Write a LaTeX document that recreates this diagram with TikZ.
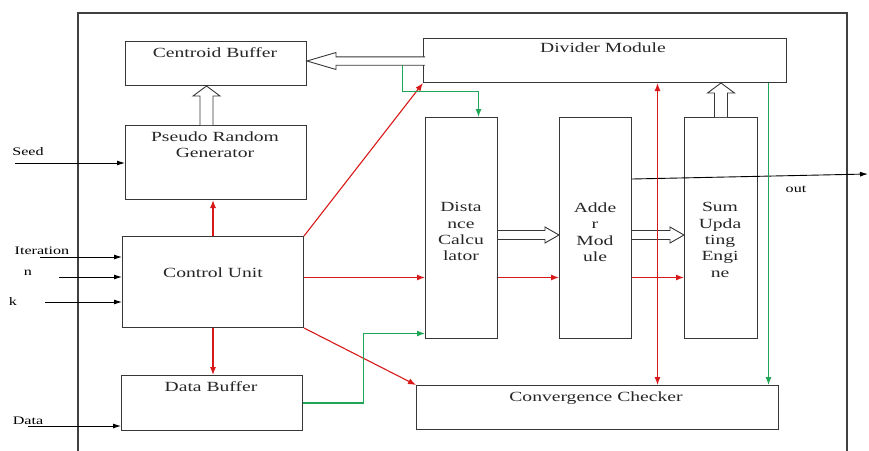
\documentclass[tikz,border=0pt]{standalone}
\usepackage{fontspec}
\setmainfont{Liberation Serif}
\newfontfamily\blockfont[FakeStretch=1.4]{Liberation Serif}
\usetikzlibrary{arrows.meta,calc}

\definecolor{redline}{RGB}{215,25,25}
\definecolor{greenline}{RGB}{30,165,85}
\definecolor{boxline}{RGB}{55,55,55}

% hollow block arrows
\newcommand{\fatup}[2]{%
  \draw[fat] let \p1=(#1), \p2=(#2) in (\x1-6.5pt,\y1) -- (\x1-6.5pt,\y2-10pt) -- (\x1-13.5pt,\y2-10pt)
    -- (\x1,\y2) -- (\x1+13.5pt,\y2-10pt) -- (\x1+6.5pt,\y2-10pt) -- (\x1+6.5pt,\y1);}
\newcommand{\fatright}[2]{%
  \draw[fat] let \p1=(#1), \p2=(#2) in (\x1,\y1+4.5pt) -- (\x2-14pt,\y1+4.5pt) -- (\x2-14pt,\y1+8pt)
    -- (\x2,\y1) -- (\x2-14pt,\y1-8pt) -- (\x2-14pt,\y1-4.5pt) -- (\x1,\y1-4.5pt);}
\newcommand{\fatleft}[2]{%
  \draw[fat] let \p1=(#1), \p2=(#2) in (\x1,\y1+4.2pt) -- (\x2+29pt,\y1+4.2pt) -- (\x2+29pt,\y1+8.5pt)
    -- (\x2,\y1) -- (\x2+29pt,\y1-8.5pt) -- (\x2+29pt,\y1-4.2pt) -- (\x1,\y1-4.2pt);}

\begin{document}
\begin{tikzpicture}[x=1pt,y=-1pt]
\tikzset{
  blk/.style={draw=boxline, line width=1pt, anchor=north west, inner sep=0pt},
  txt/.style={font=\blockfont\fontsize{14}{16.3}\selectfont, align=center, text=black!85, inner sep=0pt, anchor=north},
  small/.style={font=\blockfont\fontsize{11.5}{13}\selectfont, inner sep=0pt},
  rarr/.style={draw=redline, line width=1.1pt, -{Latex[length=8pt,width=6pt]}},
  garr/.style={draw=greenline, line width=1.1pt, -{Latex[length=8pt,width=6pt]}},
  inarr/.style={draw=black, line width=0.9pt, -{Latex[length=8pt,width=5pt]}},
  fat/.style={draw=boxline, line width=0.9pt, fill=white},
}
\useasboundingbox (0,0) rectangle (869,450);
    \draw[line width=1.2pt, black!75] (78,452) -- (78,13) -- (847,13) -- (847,452);

    % blocks
    \node[blk, minimum width=181pt, minimum height=44pt] (cb) at (125,41) {};
    \node[blk, minimum width=181pt, minimum height=74pt] (prg) at (125,125) {};
    \node[blk, minimum width=181pt, minimum height=91pt] (cu) at (122,236) {};
    \node[blk, minimum width=181pt, minimum height=55pt] (db) at (121,375) {};
    \node[blk, minimum width=363pt, minimum height=44pt] (dm) at (423,38) {};
    \node[blk, minimum width=72pt, minimum height=221pt] (dc) at (425,117) {};
    \node[blk, minimum width=72pt, minimum height=221pt] (am) at (559,117) {};
    \node[blk, minimum width=73pt, minimum height=221pt] (su) at (684,117) {};
    \node[blk, minimum width=362pt, minimum height=44pt] (cc) at (416,385) {};

    \node[txt] (cb-t) at (215,47.5) {Centroid Buffer};
    \node[txt] (prg-t) at (215,131.5) {Pseudo Random\\Generator};
    \node[txt] (cu-t) at (213,267.5) {Control Unit};
    \node[txt] (db-t) at (211,381.5) {Data Buffer};
    \node[txt] (dm-t) at (603,42.5) {Divider Module};
    \node[txt] (dc-t) at (461,202.5) {Dista\\nce\\Calcu\\lator};
    \node[txt] (am-t) at (595,202.5) {Adde\\r\\Mod\\ule};
    \node[txt] (su-t) at (720,202.5) {Sum\\Upda\\ting\\Engi\\ne};
    \node[txt] (cc-t) at (596,391.5) {Convergence Checker};

    % inputs and output
    \coordinate (seed) at (15,163);
    \coordinate (iter) at (40,257);
    \coordinate (nin) at (59,277);
    \coordinate (kin) at (45,302);
    \coordinate (data) at (28,426);
    \coordinate (outrow) at (0,179);
    \coordinate (outend) at (868,174);
    \node[small] (seed-l) at (28,152) {Seed};
    \node[small] (iter-l) at (42,251) {Iteration};
    \node[small] (n-l) at (28,273) {n};
    \node[small] (k-l) at (13,302) {k};
    \node[small] (data-l) at (28,421) {Data};
    \node[small] (out-l) at (796,189) {out};
    \draw[inarr] (seed) -- (prg.west |- seed);
    \draw[inarr] (iter) -- (cu.west |- iter);
    \draw[inarr] (nin) -- (cu.west |- nin);
    \draw[inarr] (kin) -- (cu.west |- kin);
    \draw[inarr] (data) -- (db.west |- data);
    \draw[inarr] (am.east |- outrow) -- (outend);

    % hollow arrows
    \coordinate (rowd) at (0,61);
    \coordinate (rowh) at (0,235);
    \fatup{$(prg.north)+(-9.5,0)$}{cb.south}
    \fatup{su.north}{dm.south}
    \fatleft{$(dm.west |- rowd)+(2,0)$}{cb.east}
    \fatright{dc.east |- rowh}{am.west}
    \fatright{am.east |- rowh}{su.west}

    % control (red)
    \coordinate (rowc) at (0,277.5);
    \coordinate (colr) at (657.5,0);
    \draw[rarr] (cu.north) -- (cu.north |- prg.south);
    \draw[rarr] (cu.south) -- (cu.south |- db.north);
    \draw[rarr] (cu.north east) -- (dm.south west);
    \draw[rarr] (cu.south east) -- (cc.north west);
    \draw[rarr] (cu.east |- rowc) -- (dc.west |- rowc);
    \draw[rarr] (dc.east |- rowc) -- (am.west |- rowc);
    \draw[rarr] (am.east |- rowc) -- (su.west |- rowc);
    \draw[rarr, {Latex[length=8pt,width=6pt]}-{Latex[length=8pt,width=6pt]}] (dm.south -| colr) -- (cc.north -| colr);

    % data (green)
    \coordinate (tap) at (402.5,65);
    \coordinate (colg) at (768.5,0);
    \coordinate (dcg) at ($(dc.south west)+(0,-5.5)$);
    \draw[garr] (tap) -- ++(0,26.5) -| ($(dc.north west)+(53.5,0)$);
    \draw[garr] (db.east) -- ++(60.5,0) |- (dcg);
    \draw[garr] (dm.south -| colg) -- (cc.north -| colg);
\end{tikzpicture}
\end{document}
